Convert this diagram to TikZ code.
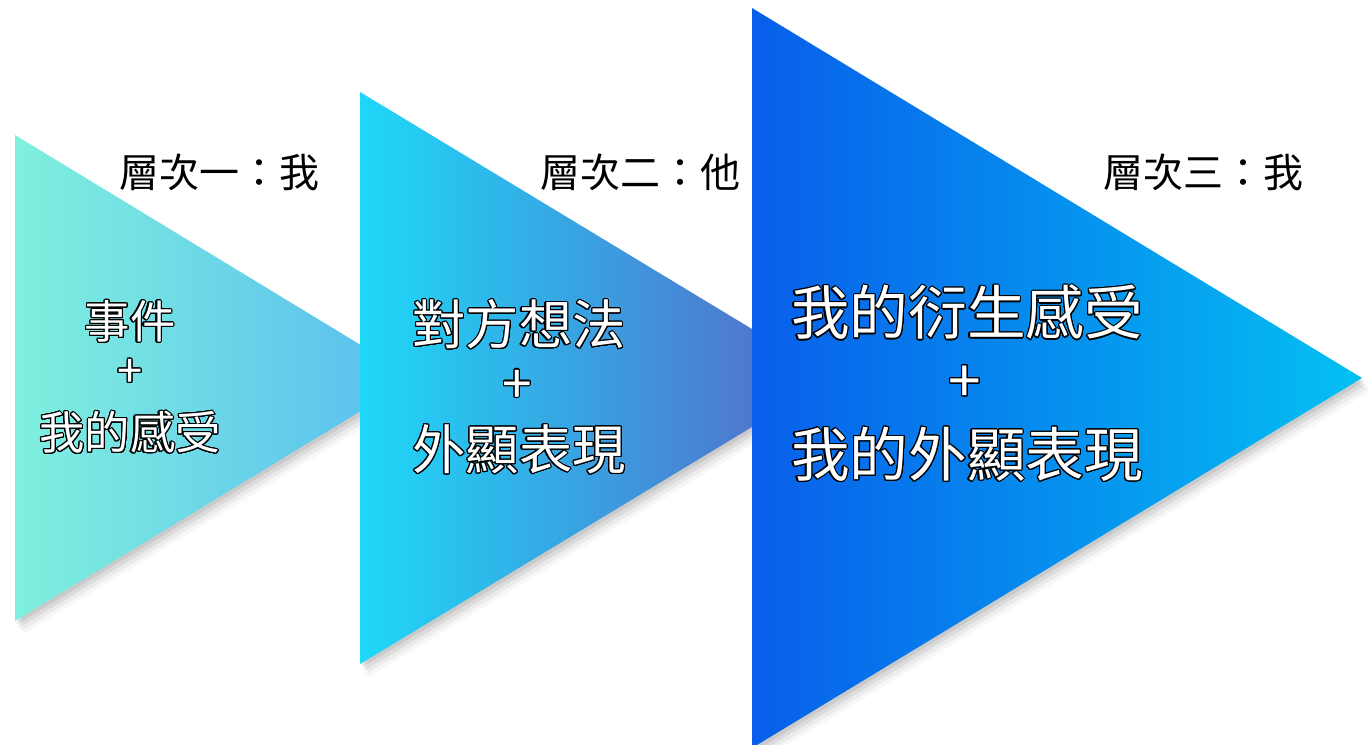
\documentclass[tikz,border=0pt]{standalone}
\usepackage{fontspec}
\newfontfamily\cjk{Noto Sans CJK TC}
\usepackage{contour}
\contourlength{0.8pt}
\contournumber{24}
\usetikzlibrary{shadows}
\definecolor{aquaL}{RGB}{128,240,222}
\definecolor{aquaR}{RGB}{86,188,240}
\definecolor{cyanL}{RGB}{30,216,248}
\definecolor{cyanR}{RGB}{88,100,198}
\definecolor{blueL}{RGB}{8,94,234}
\definecolor{blueR}{RGB}{4,192,242}
\tikzset{
  layer/.style={
    drop shadow={shadow xshift=1.5pt, shadow yshift=-2.5pt, opacity=0.18},
    drop shadow={shadow xshift=3pt, shadow yshift=-5pt, opacity=0.14},
    drop shadow={shadow xshift=4.5pt, shadow yshift=-7.5pt, opacity=0.10},
    drop shadow={shadow xshift=6pt, shadow yshift=-10pt, opacity=0.06}},
  levellabel/.style={font=\cjk\fontsize{30}{34}\selectfont, text=black},
  inner/.style={font=\cjk\fontsize{#1}{#1}\selectfont, text=white, inner sep=0pt}
}
\newcommand{\outl}[1]{\contour{black}{#1}}
\begin{document}
\begin{tikzpicture}[x=0.75pt,y=0.75pt,yscale=-1]
\useasboundingbox[fill=white] (0,0) rectangle (1369,745);

%Shape: Triangle [level one]
\path[layer, left color=aquaL, right color=aquaR] (15,135) -- (415,378) -- (15,621) -- cycle;
%Shape: Triangle [level two]
\path[layer, left color=cyanL, right color=cyanR] (360,92) -- (833,378) -- (360,664) -- cycle;
%Shape: Triangle [level three]
\path[layer, left color=blueL, right color=blueR] (752,8) -- (1362,378) -- (752,748) -- cycle;

% Text Node
\node[levellabel] (lab1) at (219,172) {層次一：我};
% Text Node
\node[levellabel] (lab2) at (640,172) {層次二：他};
% Text Node
\node[levellabel] (lab3) at (1203,172) {層次三：我};

% Text Node
\node[inner=34] (ev) at (130,322) {\outl{事件}};
\node[inner=34] (plusA) at (130,374) {\outl{+}};
\node[inner=34] (feel) at (130,433) {\outl{我的感受}};
% Text Node
\node[inner=40] (thought) at (519,325) {\outl{對方想法}};
\node[inner=40] (plusB) at (517,387) {\outl{+}};
\node[inner=40] (shown) at (519,450) {\outl{外顯表現}};
% Text Node
\node[inner=44] (derived) at (967,313) {\outl{我的衍生感受}};
\node[inner=44] (plusC) at (965,385) {\outl{+}};
\node[inner=44] (myshown) at (967,455) {\outl{我的外顯表現}};

\end{tikzpicture}
\end{document}
